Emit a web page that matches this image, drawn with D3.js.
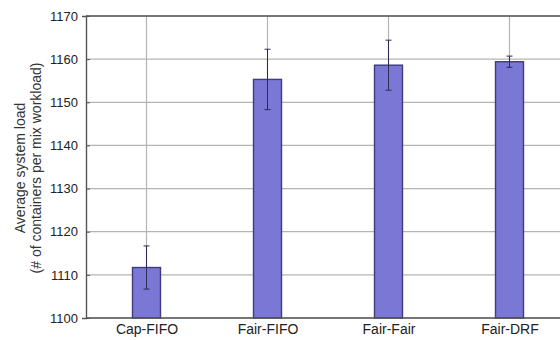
<!DOCTYPE html>
<html>
<head>
<meta charset="utf-8">
<script src="https://cdn.jsdelivr.net/npm/d3@7"></script>
<style>
  html, body { margin: 0; padding: 0; background: #fff; }
  svg { display: block; }
  text { font-family: "Liberation Sans", Arial, sans-serif; }
</style>
</head>
<body>
<svg id="chart" width="560" height="340"></svg>
<script>
// Scheduler combinations and measured average system load
const categories = ["Cap-FIFO", "Fair-FIFO", "Fair-Fair", "Fair-DRF"];
const loadMeans = [1111.7, 1155.3, 1158.6, 1159.4];
const loadErrors = [5.0, 7.0, 5.8, 1.3];
const yTicks = [1100, 1110, 1120, 1130, 1140, 1150, 1160, 1170];
const yTitle = ["Average system load", "(# of containers per mix workload)"];

const svg = d3.select("#chart");
const plotLeft = 86, plotTop = 16, plotBottom = 318, plotRight = 570;

const x = d3.scaleLinear().domain([0.5, categories.length + 0.5]).range([plotLeft, plotRight]);
const y = d3.scaleLinear().domain([1100, 1170]).range([plotBottom, plotTop]);
const barW = 28;

// Horizontal grid
svg.append("g").selectAll("line").data(yTicks).join("line")
  .attr("x1", plotLeft).attr("x2", plotRight)
  .attr("y1", d => y(d)).attr("y2", d => y(d))
  .attr("stroke", "#b4b4b4").attr("stroke-width", 1.2);

// Vertical grid at each category
svg.append("g").selectAll("line").data(categories).join("line")
  .attr("x1", (d, i) => x(i + 1)).attr("x2", (d, i) => x(i + 1))
  .attr("y1", plotTop).attr("y2", plotBottom)
  .attr("stroke", "#b4b4b4").attr("stroke-width", 1.2);

// Bars
svg.append("g").selectAll("rect").data(loadMeans).join("rect")
  .attr("x", (d, i) => x(i + 1) - barW / 2)
  .attr("width", barW)
  .attr("y", d => y(d))
  .attr("height", d => plotBottom - y(d))
  .attr("fill", "#7b77d4")
  .attr("stroke", "#3e3c7e")
  .attr("stroke-width", 1.4);

// Error bars
const eb = svg.append("g").attr("stroke", "#2c2b55").attr("stroke-width", 1);
loadMeans.forEach((m, i) => {
  const cx = x(i + 1), e = loadErrors[i];
  eb.append("line").attr("x1", cx).attr("x2", cx).attr("y1", y(m - e)).attr("y2", y(m + e));
  [m - e, m + e].forEach(v => {
    eb.append("line").attr("x1", cx - 3).attr("x2", cx + 3).attr("y1", y(v)).attr("y2", y(v));
  });
});

// Axes frame
svg.append("line").attr("x1", plotLeft).attr("x2", plotRight).attr("y1", plotTop).attr("y2", plotTop)
  .attr("stroke", "#555").attr("stroke-width", 1.4);
svg.append("line").attr("x1", plotLeft).attr("x2", plotRight).attr("y1", plotBottom).attr("y2", plotBottom)
  .attr("stroke", "#555").attr("stroke-width", 1.4);

const yAxis = d3.axisLeft(y).tickValues(yTicks).tickFormat(d3.format("d")).tickSize(4).tickPadding(4);
const gy = svg.append("g").attr("transform", `translate(${plotLeft},0)`).call(yAxis);
gy.select(".domain").attr("stroke", "#555").attr("stroke-width", 1.4);
gy.selectAll(".tick line").attr("stroke", "#555").attr("x2", 4);
gy.selectAll(".tick text").attr("font-size", 13).attr("fill", "#222")
  .attr("font-family", "'Liberation Sans', Arial, sans-serif");

const xAxis = d3.axisBottom(x).tickValues(categories.map((d, i) => i + 1))
  .tickFormat((d, i) => categories[i]).tickSize(0).tickPadding(6);
const gx = svg.append("g").attr("transform", `translate(0,${plotBottom})`).call(xAxis);
gx.select(".domain").remove();
gx.selectAll(".tick text").attr("font-size", 14).attr("fill", "#222")
  .attr("font-family", "'Liberation Sans', Arial, sans-serif");

// Y axis title, two lines
svg.append("g").attr("transform", `translate(0,168) rotate(-90)`)
  .selectAll("text").data(yTitle).join("text")
  .attr("x", 0).attr("y", (d, i) => 25 + i * 16)
  .attr("text-anchor", "middle")
  .attr("font-size", 14).attr("fill", "#333")
  .text(d => d);
</script>
</body>
</html>
